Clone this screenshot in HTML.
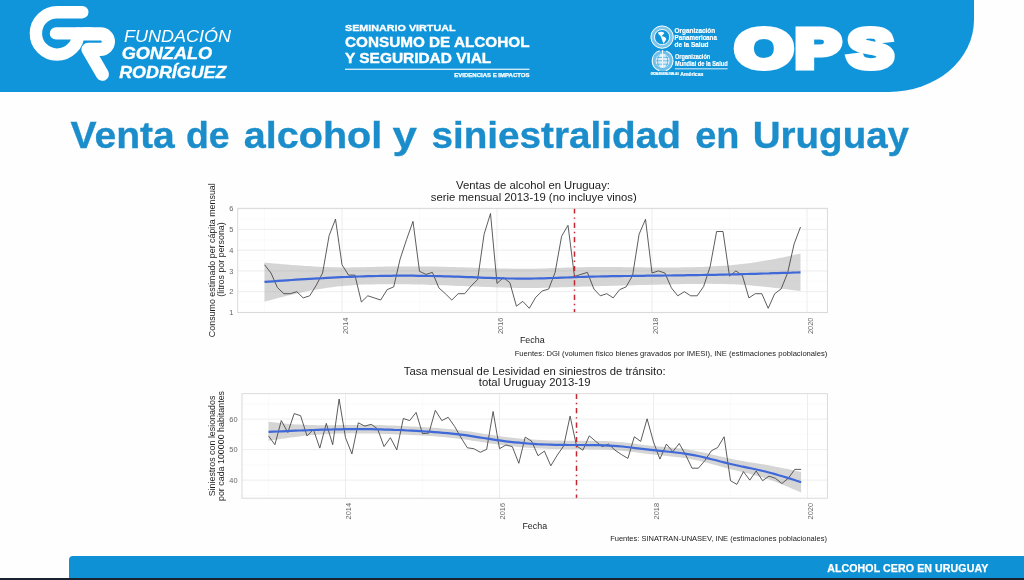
<!DOCTYPE html>
<html lang="es">
<head>
<meta charset="utf-8">
<title>Venta de alcohol y siniestralidad en Uruguay</title>
<style>
html,body{margin:0;padding:0;}
body{width:1024px;height:580px;overflow:hidden;background:#fefefe;position:relative;font-family:"Liberation Sans",sans-serif;}
.topbar{position:absolute;left:0;top:0;width:974.3px;height:91.6px;background:#1095da;border-bottom-right-radius:85px 72px;}
.hdr{position:absolute;left:0;top:0;filter:blur(0.45px);}
h1{position:absolute;margin:0;left:0;top:100px;width:1024px;height:60px;font-size:37px;line-height:0;}
h1 svg{display:block;filter:blur(0.5px);}
.charts{position:absolute;left:0;top:0;filter:blur(0.45px);}
.footer{position:absolute;left:69px;top:555.8px;width:960px;height:23.2px;background:#0f91d5;border-top-left-radius:4px;}
.footer span{position:absolute;left:758.2px;top:6.0px;font-size:10.6px;line-height:12px;font-weight:bold;color:#fff;white-space:nowrap;letter-spacing:0.1px;-webkit-text-stroke:0.25px #fff;}
.baseline{position:absolute;left:0;top:578.3px;width:1024px;height:2px;background:#1a2230;}
</style>
</head>
<body>
<div class="topbar"></div>
<svg class="hdr" width="1024" height="100" viewBox="0 0 1024 100" font-family="'Liberation Sans', sans-serif" fill="#fff">
<!-- GR logo mark -->
<g id="logo-gr" fill="none" stroke="#fff" stroke-width="12.4" stroke-linecap="round" stroke-linejoin="round">
<title>GR</title>
<path d="M82.3,12.2 H57.6 A21.2,21.2 0 1 0 78.3,33.4"/>
<path d="M56,33.4 H90"/>
<path d="M84,33.8 H100.6 A7.8,7.8 0 0 1 100.6,49.4 H88 L102.4,74.2" stroke-width="13.2"/>
</g>
<g font-style="italic">
<text x="124.1" y="41.7" font-size="16.2" textLength="107" lengthAdjust="spacingAndGlyphs">FUNDACIÓN</text>
<g font-weight="bold" stroke="#fff" stroke-width="0.35">
<text x="121.7" y="59.4" font-size="16.4" textLength="90.4" lengthAdjust="spacingAndGlyphs">GONZALO</text>
<text x="119.2" y="77.5" font-size="16.4" textLength="107.2" lengthAdjust="spacingAndGlyphs">RODRÍGUEZ</text>
</g>
</g>
<!-- seminario -->
<g font-weight="bold" stroke="#fff" stroke-width="0.4">
<text x="345" y="31.2" font-size="9.8" textLength="110.5" lengthAdjust="spacingAndGlyphs" stroke-width="0.3">SEMINARIO VIRTUAL</text>
<text x="345" y="46.9" font-size="15" textLength="184.5" lengthAdjust="spacingAndGlyphs">CONSUMO DE ALCOHOL</text>
<text x="345" y="63.4" font-size="15" textLength="146.3" lengthAdjust="spacingAndGlyphs">Y SEGURIDAD VIAL</text>
<rect x="345" y="68.7" width="184.5" height="1.1" stroke="none"/>
<text x="454.3" y="76.7" font-size="5.2" textLength="75.2" lengthAdjust="spacingAndGlyphs" stroke-width="0.25">EVIDENCIAS E IMPACTOS</text>
</g>
<!-- OPS -->
<g id="ops">
<g id="emblem-paho" transform="translate(662.1,37.1)">
<circle r="11.2" fill="#fff" fill-opacity="0.45" stroke="#fff" stroke-width="1"/>
<circle r="7.6" fill="#1095da" stroke="#fff" stroke-width="0.9"/>
<path d="M-4.2,-4.6 C-2,-6 1.5,-5.6 2.2,-4 C1.6,-2.6 0.2,-2.2 -0.2,-0.8 C1.6,-0.8 4,0.4 4.2,2 C3.6,3.8 2.2,5 1.4,6.6 C0.4,5.4 0.6,3.4 -0.4,2 C-1,0.8 -1.2,-0.4 -1.6,-1.4 C-2.8,-2 -3.8,-3.2 -4.2,-4.6 Z" fill="#fff"/>
</g>
<g id="emblem-who" transform="translate(662.6,60.8)">
<circle r="10.4" fill="#fff" fill-opacity="0.4" stroke="#fff" stroke-width="1.1" stroke-dasharray="26 6.7" stroke-dashoffset="-19.7"/>
<circle r="6.6" fill="#fff" fill-opacity="0.75" stroke="#fff" stroke-width="0.7"/>
<path d="M-6.6,0 H6.6 M-5.6,-3.4 H5.6 M-5.6,3.4 H5.6 M0,-10.8 V7.5 M-3.4,-5.6 C-5.6,-2 -5.6,2 -3.4,5.6 M3.4,-5.6 C5.6,-2 5.6,2 3.4,5.6" fill="none" stroke="#1095da" stroke-width="0.55"/>
<path d="M0,-10.8 V7.2" stroke="#fff" stroke-width="1" fill="none"/>
</g>
<g font-weight="bold" font-size="7.3" stroke="#fff" stroke-width="0.2">
<text x="674.5" y="33.2" textLength="40.7" lengthAdjust="spacingAndGlyphs">Organización</text>
<text x="674.5" y="40.2" textLength="42.4" lengthAdjust="spacingAndGlyphs">Panamericana</text>
<text x="674.5" y="46.9" textLength="34" lengthAdjust="spacingAndGlyphs">de la Salud</text>
<text x="675" y="58.8" textLength="35.2" lengthAdjust="spacingAndGlyphs">Organización</text>
<text x="675" y="66" textLength="52.6" lengthAdjust="spacingAndGlyphs">Mundial de la Salud</text>
<rect x="675" y="68.5" width="52.6" height="0.6"/>
<text x="650.7" y="74.9" font-size="2.6" textLength="28" lengthAdjust="spacingAndGlyphs">OFICINA REGIONAL PARA LAS</text>
<text x="680.2" y="75.6" font-size="5.6" textLength="23.3" lengthAdjust="spacingAndGlyphs">Américas</text>
</g>
<g font-size="53.5" font-weight="bold" stroke="#fff" stroke-width="7" stroke-linejoin="miter"><text transform="scale(1.37,1)" x="536.9" y="67.5">O</text><text transform="scale(1.26,1)" x="631.3 673.0" y="67.5">PS</text></g>
</g>
</svg>
<h1><svg width="1024" height="60" viewBox="0 0 1024 60"><text y="47.7" font-family="'Liberation Sans', sans-serif" font-size="37" font-weight="bold" fill="#1b8dcb" stroke="#1b8dcb" stroke-width="0.35"><tspan x="70.6" textLength="104.2" lengthAdjust="spacingAndGlyphs">Venta</tspan> <tspan x="185.9" textLength="43.6" lengthAdjust="spacingAndGlyphs">de</tspan> <tspan x="243.8" textLength="138.4" lengthAdjust="spacingAndGlyphs">alcohol</tspan> <tspan x="392.6" textLength="24.4" lengthAdjust="spacingAndGlyphs">y</tspan> <tspan x="431.4" textLength="249.4" lengthAdjust="spacingAndGlyphs">siniestralidad</tspan> <tspan x="695.2" textLength="44.2" lengthAdjust="spacingAndGlyphs">en</tspan> <tspan x="752.8" textLength="156.2" lengthAdjust="spacingAndGlyphs">Uruguay</tspan></text></svg></h1>
<svg class="charts" width="1024" height="580" viewBox="0 0 1024 580" font-family="'Liberation Sans', sans-serif">
<g id="chart-ventas">
<rect x="237.7" y="208.3" width="589.7" height="104.3" fill="#fff"/>
<line x1="237.7" x2="827.4" y1="302.0" y2="302.0" stroke="#f6f6f6" stroke-width="0.5"/>
<line x1="237.7" x2="827.4" y1="281.3" y2="281.3" stroke="#f6f6f6" stroke-width="0.5"/>
<line x1="237.7" x2="827.4" y1="260.5" y2="260.5" stroke="#f6f6f6" stroke-width="0.5"/>
<line x1="237.7" x2="827.4" y1="239.8" y2="239.8" stroke="#f6f6f6" stroke-width="0.5"/>
<line x1="237.7" x2="827.4" y1="219.1" y2="219.1" stroke="#f6f6f6" stroke-width="0.5"/>
<line y1="208.3" y2="312.6" x1="264.5" x2="264.5" stroke="#f6f6f6" stroke-width="0.5"/>
<line y1="208.3" y2="312.6" x1="419.5" x2="419.5" stroke="#f6f6f6" stroke-width="0.5"/>
<line y1="208.3" y2="312.6" x1="574.5" x2="574.5" stroke="#f6f6f6" stroke-width="0.5"/>
<line y1="208.3" y2="312.6" x1="729.5" x2="729.5" stroke="#f6f6f6" stroke-width="0.5"/>
<line x1="237.7" x2="827.4" y1="312.4" y2="312.4" stroke="#e9e9e9" stroke-width="0.8"/>
<line x1="237.7" x2="827.4" y1="291.7" y2="291.7" stroke="#e9e9e9" stroke-width="0.8"/>
<line x1="237.7" x2="827.4" y1="270.9" y2="270.9" stroke="#e9e9e9" stroke-width="0.8"/>
<line x1="237.7" x2="827.4" y1="250.2" y2="250.2" stroke="#e9e9e9" stroke-width="0.8"/>
<line x1="237.7" x2="827.4" y1="229.4" y2="229.4" stroke="#e9e9e9" stroke-width="0.8"/>
<line x1="237.7" x2="827.4" y1="208.7" y2="208.7" stroke="#e9e9e9" stroke-width="0.8"/>
<line y1="208.3" y2="312.6" x1="342.0" x2="342.0" stroke="#e9e9e9" stroke-width="0.8"/>
<line y1="208.3" y2="312.6" x1="497.0" x2="497.0" stroke="#e9e9e9" stroke-width="0.8"/>
<line y1="208.3" y2="312.6" x1="652.0" x2="652.0" stroke="#e9e9e9" stroke-width="0.8"/>
<line y1="208.3" y2="312.6" x1="807.0" x2="807.0" stroke="#e9e9e9" stroke-width="0.8"/>
<polygon points="264.5,262.6 269.0,263.0 273.5,263.4 278.0,263.8 282.5,264.2 287.0,264.5 291.5,264.9 296.0,265.2 300.5,265.5 305.0,265.9 309.5,266.1 314.0,266.4 318.6,266.7 323.1,266.9 327.6,267.1 332.1,267.2 336.6,267.3 341.1,267.4 345.6,267.4 350.1,267.4 354.6,267.3 359.1,267.3 363.6,267.2 368.1,267.0 372.6,266.9 377.1,266.8 381.6,266.7 386.1,266.6 390.6,266.5 395.1,266.4 399.6,266.4 404.1,266.4 408.6,266.4 413.1,266.4 417.6,266.4 422.2,266.4 426.7,266.5 431.2,266.5 435.7,266.6 440.2,266.7 444.7,266.8 449.2,266.9 453.7,267.1 458.2,267.2 462.7,267.3 467.2,267.5 471.7,267.6 476.2,267.8 480.7,267.9 485.2,268.1 489.7,268.2 494.2,268.3 498.7,268.4 503.2,268.5 507.7,268.6 512.2,268.7 516.7,268.7 521.2,268.8 525.8,268.7 530.3,268.7 534.8,268.7 539.3,268.6 543.8,268.4 548.3,268.3 552.8,268.1 557.3,268.0 561.8,267.8 566.3,267.6 570.8,267.5 575.3,267.4 579.8,267.3 584.3,267.2 588.8,267.1 593.3,267.1 597.8,267.1 602.3,267.1 606.8,267.1 611.3,267.1 615.8,267.1 620.3,267.1 624.8,267.2 629.3,267.2 633.9,267.2 638.4,267.3 642.9,267.3 647.4,267.4 651.9,267.4 656.4,267.4 660.9,267.4 665.4,267.4 669.9,267.4 674.4,267.4 678.9,267.4 683.4,267.3 687.9,267.2 692.4,267.2 696.9,267.0 701.4,266.9 705.9,266.8 710.4,266.6 714.9,266.3 719.4,266.1 723.9,265.8 728.4,265.4 732.9,265.0 737.5,264.6 742.0,264.0 746.5,263.5 751.0,262.9 755.5,262.2 760.0,261.5 764.5,260.8 769.0,260.0 773.5,259.2 778.0,258.3 782.5,257.4 787.0,256.4 791.5,255.5 796.0,254.5 800.5,253.5 800.5,291.0 796.0,290.5 791.5,289.9 787.0,289.3 782.5,288.7 778.0,288.2 773.5,287.7 769.0,287.2 764.5,286.7 760.0,286.3 755.5,285.9 751.0,285.5 746.5,285.1 742.0,284.8 737.5,284.6 732.9,284.3 728.4,284.2 723.9,284.0 719.4,283.9 714.9,283.9 710.4,283.8 705.9,283.8 701.4,283.9 696.9,283.9 692.4,284.0 687.9,284.0 683.4,284.1 678.9,284.2 674.4,284.3 669.9,284.4 665.4,284.5 660.9,284.6 656.4,284.7 651.9,284.8 647.4,284.9 642.9,285.0 638.4,285.1 633.9,285.3 629.3,285.4 624.8,285.5 620.3,285.6 615.8,285.7 611.3,285.8 606.8,285.9 602.3,286.1 597.8,286.2 593.3,286.3 588.8,286.4 584.3,286.6 579.8,286.7 575.3,286.9 570.8,287.0 566.3,287.2 561.8,287.3 557.3,287.5 552.8,287.6 548.3,287.7 543.8,287.8 539.3,287.9 534.8,287.9 530.3,288.0 525.8,287.9 521.2,287.9 516.7,287.9 512.2,287.8 507.7,287.7 503.2,287.6 498.7,287.4 494.2,287.3 489.7,287.1 485.2,286.9 480.7,286.8 476.2,286.6 471.7,286.4 467.2,286.2 462.7,286.0 458.2,285.9 453.7,285.7 449.2,285.5 444.7,285.3 440.2,285.2 435.7,285.0 431.2,284.9 426.7,284.7 422.2,284.6 417.6,284.5 413.1,284.4 408.6,284.3 404.1,284.3 399.6,284.2 395.1,284.2 390.6,284.2 386.1,284.2 381.6,284.2 377.1,284.3 372.6,284.4 368.1,284.5 363.6,284.6 359.1,284.8 354.6,285.1 350.1,285.4 345.6,285.7 341.1,286.2 336.6,286.6 332.1,287.2 327.6,287.8 323.1,288.4 318.6,289.2 314.0,290.0 309.5,290.8 305.0,291.7 300.5,292.7 296.0,293.7 291.5,294.7 287.0,295.8 282.5,296.9 278.0,298.1 273.5,299.2 269.0,300.4 264.5,301.6" fill="#999" fill-opacity="0.41"/>
<polyline points="264.5,264.7 271.0,273.0 277.4,287.5 283.9,293.7 290.3,293.7 296.8,291.7 303.2,297.9 309.7,295.8 316.2,285.4 322.6,273.0 329.1,235.7 335.5,219.1 342.0,264.7 348.5,275.1 354.9,275.1 361.4,302.0 367.8,295.8 374.3,297.9 380.7,300.0 387.2,289.6 393.7,286.9 400.1,259.1 406.6,239.4 413.0,221.4 419.5,271.3 426.0,274.4 432.4,272.4 438.9,287.9 445.3,293.7 451.8,300.0 458.2,293.7 464.7,293.7 471.2,285.9 477.6,279.6 484.1,234.2 490.5,213.5 497.0,283.4 503.4,277.6 509.9,282.7 516.4,306.2 522.8,301.4 529.3,308.3 535.7,297.3 542.2,291.0 548.7,289.0 555.1,272.4 561.6,236.3 568.0,225.3 574.5,276.5 580.9,274.4 587.4,272.4 593.9,289.0 600.3,295.8 606.8,293.7 613.2,297.9 619.7,289.6 626.1,286.9 632.6,275.5 639.1,234.2 645.5,219.3 652.0,273.0 658.4,270.9 664.9,273.0 671.4,287.9 677.8,295.8 684.3,291.7 690.7,295.8 697.2,295.8 703.6,286.5 710.1,266.8 716.6,231.5 723.0,231.5 729.5,276.1 735.9,270.9 742.4,275.5 748.9,297.9 755.3,293.7 761.8,293.7 768.2,308.3 774.7,293.7 781.1,289.0 787.6,273.0 794.1,244.0 800.5,227.0" fill="none" stroke="#404040" stroke-width="0.85" stroke-linejoin="round"/>
<polyline points="264.5,281.9 269.0,281.6 273.5,281.3 278.0,280.9 282.5,280.6 287.0,280.3 291.5,280.0 296.0,279.7 300.5,279.4 305.0,279.1 309.5,278.8 314.0,278.6 318.6,278.3 323.1,278.1 327.6,277.8 332.1,277.6 336.6,277.4 341.1,277.2 345.6,277.0 350.1,276.8 354.6,276.6 359.1,276.5 363.6,276.3 368.1,276.2 372.6,276.1 377.1,276.0 381.6,275.9 386.1,275.8 390.6,275.8 395.1,275.7 399.6,275.7 404.1,275.7 408.6,275.7 413.1,275.7 417.6,275.8 422.2,275.8 426.7,275.9 431.2,276.0 435.7,276.1 440.2,276.2 444.7,276.3 449.2,276.4 453.7,276.6 458.2,276.7 462.7,276.9 467.2,277.1 471.7,277.2 476.2,277.4 480.7,277.6 485.2,277.8 489.7,277.9 494.2,278.1 498.7,278.2 503.2,278.3 507.7,278.5 512.2,278.5 516.7,278.6 521.2,278.6 525.8,278.6 530.3,278.6 534.8,278.5 539.3,278.4 543.8,278.3 548.3,278.1 552.8,278.0 557.3,277.8 561.8,277.6 566.3,277.5 570.8,277.3 575.3,277.1 579.8,277.0 584.3,276.8 588.8,276.7 593.3,276.6 597.8,276.5 602.3,276.4 606.8,276.3 611.3,276.2 615.8,276.1 620.3,276.1 624.8,276.0 629.3,276.0 633.9,275.9 638.4,275.8 642.9,275.8 647.4,275.7 651.9,275.7 656.4,275.6 660.9,275.6 665.4,275.5 669.9,275.5 674.4,275.4 678.9,275.4 683.4,275.3 687.9,275.2 692.4,275.2 696.9,275.1 701.4,275.0 705.9,274.9 710.4,274.8 714.9,274.8 719.4,274.7 723.9,274.6 728.4,274.5 732.9,274.4 737.5,274.3 742.0,274.1 746.5,274.0 751.0,273.9 755.5,273.8 760.0,273.6 764.5,273.5 769.0,273.4 773.5,273.2 778.0,273.1 782.5,272.9 787.0,272.8 791.5,272.7 796.0,272.5 800.5,272.4" fill="none" stroke="#3f68d8" stroke-width="2.2" stroke-linejoin="round"/>
<line x1="574.5" x2="574.5" y1="208.3" y2="312.6" stroke="#c4272f" stroke-width="1.5" stroke-dasharray="5.2 3.9 1.4 3.9"/>
<rect x="237.7" y="208.3" width="589.7" height="104.3" fill="none" stroke="#d6d6d6" stroke-width="0.9"/>
<g font-size="11.3" fill="#1c1c1c" text-anchor="middle">
<text x="533" y="189.2">Ventas de alcohol en Uruguay:</text>
<text x="533.8" y="200.6">serie mensual 2013-19 (no incluye vinos)</text>
</g>
<g font-size="7.4" fill="#666">
<text x="233.3" y="315.0" text-anchor="end">1</text>
<text x="233.3" y="294.3" text-anchor="end">2</text>
<text x="233.3" y="273.5" text-anchor="end">3</text>
<text x="233.3" y="252.8" text-anchor="end">4</text>
<text x="233.3" y="232.0" text-anchor="end">5</text>
<text x="233.3" y="211.3" text-anchor="end">6</text>
<text transform="translate(347.7,317.6) rotate(-90)" text-anchor="end">2014</text>
<text transform="translate(502.7,317.6) rotate(-90)" text-anchor="end">2016</text>
<text transform="translate(657.7,317.6) rotate(-90)" text-anchor="end">2018</text>
<text transform="translate(812.7,317.6) rotate(-90)" text-anchor="end">2020</text>
</g>
<g font-size="8.9" fill="#1c1c1c" text-anchor="middle">
<text transform="translate(215.2,260.2) rotate(-90)">Consumo estimado per cápita mensual</text>
<text transform="translate(224.1,259.5) rotate(-90)">(litros por persona)</text>
<text x="532.3" y="342.7">Fecha</text>
</g>
<text x="827.4" y="355.8" font-size="7.63" fill="#1c1c1c" text-anchor="end">Fuentes: DGI (volumen físico bienes gravados por IMESI), INE (estimaciones poblacionales)</text>
</g>
<g id="chart-lesividad">
<rect x="242.0" y="393.7" width="585.4" height="104.5" fill="#fff"/>
<line x1="242.0" x2="827.4" y1="495.4" y2="495.4" stroke="#f6f6f6" stroke-width="0.5"/>
<line x1="242.0" x2="827.4" y1="464.9" y2="464.9" stroke="#f6f6f6" stroke-width="0.5"/>
<line x1="242.0" x2="827.4" y1="434.4" y2="434.4" stroke="#f6f6f6" stroke-width="0.5"/>
<line x1="242.0" x2="827.4" y1="403.9" y2="403.9" stroke="#f6f6f6" stroke-width="0.5"/>
<line y1="393.7" y2="498.2" x1="268.5" x2="268.5" stroke="#f6f6f6" stroke-width="0.5"/>
<line y1="393.7" y2="498.2" x1="422.5" x2="422.5" stroke="#f6f6f6" stroke-width="0.5"/>
<line y1="393.7" y2="498.2" x1="576.5" x2="576.5" stroke="#f6f6f6" stroke-width="0.5"/>
<line y1="393.7" y2="498.2" x1="730.5" x2="730.5" stroke="#f6f6f6" stroke-width="0.5"/>
<line x1="242.0" x2="827.4" y1="480.1" y2="480.1" stroke="#e9e9e9" stroke-width="0.8"/>
<line x1="242.0" x2="827.4" y1="449.6" y2="449.6" stroke="#e9e9e9" stroke-width="0.8"/>
<line x1="242.0" x2="827.4" y1="419.1" y2="419.1" stroke="#e9e9e9" stroke-width="0.8"/>
<line y1="393.7" y2="498.2" x1="345.5" x2="345.5" stroke="#e9e9e9" stroke-width="0.8"/>
<line y1="393.7" y2="498.2" x1="499.5" x2="499.5" stroke="#e9e9e9" stroke-width="0.8"/>
<line y1="393.7" y2="498.2" x1="653.5" x2="653.5" stroke="#e9e9e9" stroke-width="0.8"/>
<line y1="393.7" y2="498.2" x1="807.5" x2="807.5" stroke="#e9e9e9" stroke-width="0.8"/>
<polygon points="268.5,421.8 273.0,422.3 277.5,422.8 281.9,423.2 286.4,423.7 290.9,424.0 295.4,424.4 299.8,424.6 304.3,424.8 308.8,425.0 313.3,425.1 317.7,425.2 322.2,425.2 326.7,425.2 331.2,425.2 335.6,425.2 340.1,425.1 344.6,425.0 349.1,425.0 353.5,424.9 358.0,424.9 362.5,424.9 367.0,424.9 371.4,424.9 375.9,425.0 380.4,425.1 384.9,425.2 389.3,425.4 393.8,425.5 398.3,425.7 402.8,425.9 407.2,426.2 411.7,426.4 416.2,426.7 420.7,426.9 425.2,427.2 429.6,427.5 434.1,427.8 438.6,428.1 443.1,428.5 447.5,428.9 452.0,429.3 456.5,429.8 461.0,430.4 465.4,431.0 469.9,431.6 474.4,432.3 478.9,433.0 483.3,433.7 487.8,434.4 492.3,435.1 496.8,435.8 501.2,436.4 505.7,437.0 510.2,437.5 514.7,438.0 519.1,438.5 523.6,438.9 528.1,439.2 532.6,439.5 537.0,439.8 541.5,440.0 546.0,440.2 550.5,440.4 554.9,440.5 559.4,440.6 563.9,440.7 568.4,440.7 572.8,440.7 577.3,440.8 581.8,440.8 586.3,440.8 590.8,440.8 595.2,440.9 599.7,441.0 604.2,441.1 608.7,441.3 613.1,441.5 617.6,441.9 622.1,442.3 626.6,442.8 631.0,443.3 635.5,443.8 640.0,444.4 644.5,444.9 648.9,445.4 653.4,445.9 657.9,446.4 662.4,446.8 666.8,447.2 671.3,447.6 675.8,448.1 680.3,448.6 684.7,449.1 689.2,449.8 693.7,450.5 698.2,451.4 702.6,452.3 707.1,453.3 711.6,454.4 716.1,455.4 720.5,456.5 725.0,457.5 729.5,458.5 734.0,459.5 738.5,460.3 742.9,461.1 747.4,461.9 751.9,462.6 756.4,463.3 760.8,464.1 765.3,464.8 769.8,465.6 774.3,466.4 778.7,467.3 783.2,468.2 787.7,469.1 792.2,470.0 796.6,470.9 801.1,471.9 801.1,492.6 796.6,490.6 792.2,488.7 787.7,486.7 783.2,484.9 778.7,483.1 774.3,481.3 769.8,479.7 765.3,478.3 760.8,476.9 756.4,475.7 751.9,474.5 747.4,473.3 742.9,472.2 738.5,471.1 734.0,470.0 729.5,468.9 725.0,467.7 720.5,466.4 716.1,465.2 711.6,464.0 707.1,462.8 702.6,461.7 698.2,460.6 693.7,459.7 689.2,458.8 684.7,458.1 680.3,457.5 675.8,456.9 671.3,456.4 666.8,455.9 662.4,455.4 657.9,455.0 653.4,454.5 648.9,453.9 644.5,453.4 640.0,452.9 635.5,452.3 631.0,451.8 626.6,451.3 622.1,450.8 617.6,450.4 613.1,450.1 608.7,449.8 604.2,449.6 599.7,449.5 595.2,449.4 590.8,449.4 586.3,449.3 581.8,449.3 577.3,449.3 572.8,449.3 568.4,449.2 563.9,449.2 559.4,449.1 554.9,449.0 550.5,448.9 546.0,448.7 541.5,448.6 537.0,448.3 532.6,448.1 528.1,447.7 523.6,447.4 519.1,447.0 514.7,446.6 510.2,446.1 505.7,445.5 501.2,445.0 496.8,444.3 492.3,443.7 487.8,443.0 483.3,442.3 478.9,441.6 474.4,440.9 469.9,440.2 465.4,439.5 461.0,438.9 456.5,438.4 452.0,437.9 447.5,437.4 443.1,437.0 438.6,436.7 434.1,436.3 429.6,436.0 425.2,435.7 420.7,435.5 416.2,435.2 411.7,435.0 407.2,434.8 402.8,434.6 398.3,434.4 393.8,434.2 389.3,434.0 384.9,433.9 380.4,433.8 375.9,433.6 371.4,433.6 367.0,433.5 362.5,433.4 358.0,433.4 353.5,433.3 349.1,433.3 344.6,433.4 340.1,433.4 335.6,433.5 331.2,433.7 326.7,433.9 322.2,434.2 317.7,434.5 313.3,434.9 308.8,435.3 304.3,435.8 299.8,436.4 295.4,436.9 290.9,437.5 286.4,438.2 281.9,438.8 277.5,439.4 273.0,440.1 268.5,440.8" fill="#999" fill-opacity="0.41"/>
<polyline points="268.5,435.9 274.9,444.7 281.3,420.6 287.8,432.5 294.2,413.6 300.6,415.7 307.0,435.9 313.4,429.5 319.8,448.1 326.3,423.4 332.7,444.7 339.1,399.0 345.5,437.7 351.9,453.9 358.3,422.8 364.8,426.1 371.2,424.3 377.6,428.9 384.0,446.6 390.4,437.7 396.8,449.9 403.3,418.5 409.7,420.6 416.1,412.4 422.5,433.7 428.9,433.1 435.3,410.3 441.8,420.6 448.2,417.3 454.6,426.4 461.0,437.7 467.4,447.8 473.8,448.7 480.3,452.3 486.7,449.3 493.1,411.5 499.5,448.7 505.9,445.0 512.3,446.6 518.8,463.3 525.2,437.1 531.6,441.1 538.0,455.7 544.4,451.1 550.8,465.8 557.3,455.1 563.7,445.9 570.1,416.1 576.5,445.9 582.9,450.2 589.3,435.9 595.8,441.4 602.2,446.6 608.6,444.1 615.0,450.2 621.4,454.5 627.9,458.4 634.3,436.8 640.7,441.4 647.1,418.8 653.5,442.0 659.9,459.1 666.4,444.1 672.8,451.7 679.2,443.5 685.6,454.8 692.0,468.2 698.4,468.2 704.9,460.6 711.3,450.8 717.7,447.5 724.1,436.8 730.5,480.7 736.9,484.4 743.4,471.6 749.8,480.1 756.2,471.0 762.6,480.7 769.0,476.1 775.4,478.3 781.9,483.5 788.3,478.3 794.7,469.4 801.1,469.4" fill="none" stroke="#404040" stroke-width="0.85" stroke-linejoin="round"/>
<polyline points="268.5,431.9 273.0,431.7 277.5,431.5 281.9,431.3 286.4,431.1 290.9,430.9 295.4,430.7 299.8,430.5 304.3,430.3 308.8,430.2 313.3,430.0 317.7,429.8 322.2,429.7 326.7,429.6 331.2,429.5 335.6,429.4 340.1,429.3 344.6,429.2 349.1,429.2 353.5,429.1 358.0,429.1 362.5,429.1 367.0,429.2 371.4,429.2 375.9,429.3 380.4,429.4 384.9,429.6 389.3,429.7 393.8,429.9 398.3,430.0 402.8,430.2 407.2,430.5 411.7,430.7 416.2,430.9 420.7,431.2 425.2,431.5 429.6,431.7 434.1,432.1 438.6,432.4 443.1,432.8 447.5,433.2 452.0,433.6 456.5,434.1 461.0,434.6 465.4,435.2 469.9,435.9 474.4,436.6 478.9,437.3 483.3,438.0 487.8,438.7 492.3,439.4 496.8,440.1 501.2,440.7 505.7,441.3 510.2,441.8 514.7,442.3 519.1,442.7 523.6,443.1 528.1,443.5 532.6,443.8 537.0,444.1 541.5,444.3 546.0,444.5 550.5,444.6 554.9,444.8 559.4,444.8 563.9,444.9 568.4,445.0 572.8,445.0 577.3,445.0 581.8,445.0 586.3,445.1 590.8,445.1 595.2,445.1 599.7,445.2 604.2,445.4 608.7,445.6 613.1,445.8 617.6,446.1 622.1,446.5 626.6,447.0 631.0,447.5 635.5,448.1 640.0,448.6 644.5,449.2 648.9,449.7 653.4,450.2 657.9,450.7 662.4,451.1 666.8,451.5 671.3,452.0 675.8,452.5 680.3,453.0 684.7,453.6 689.2,454.3 693.7,455.1 698.2,456.0 702.6,457.0 707.1,458.1 711.6,459.2 716.1,460.3 720.5,461.5 725.0,462.6 729.5,463.7 734.0,464.7 738.5,465.7 742.9,466.7 747.4,467.6 751.9,468.5 756.4,469.5 760.8,470.5 765.3,471.5 769.8,472.7 774.3,473.9 778.7,475.2 783.2,476.5 787.7,477.9 792.2,479.3 796.6,480.8 801.1,482.2" fill="none" stroke="#3f68d8" stroke-width="2.2" stroke-linejoin="round"/>
<line x1="576.5" x2="576.5" y1="393.7" y2="498.2" stroke="#c4272f" stroke-width="1.5" stroke-dasharray="5.2 3.9 1.4 3.9"/>
<rect x="242.0" y="393.7" width="585.4" height="104.5" fill="none" stroke="#d6d6d6" stroke-width="0.9"/>
<g font-size="11.3" fill="#1c1c1c" text-anchor="middle">
<text x="534.7" y="374.7">Tasa mensual de Lesividad en siniestros de tránsito:</text>
<text x="534.7" y="386.3">total Uruguay 2013-19</text>
</g>
<g font-size="7.4" fill="#666">
<text x="237.6" y="482.7" text-anchor="end">40</text>
<text x="237.6" y="452.2" text-anchor="end">50</text>
<text x="237.6" y="421.7" text-anchor="end">60</text>
<text transform="translate(351.2,503.0) rotate(-90)" text-anchor="end">2014</text>
<text transform="translate(505.2,503.0) rotate(-90)" text-anchor="end">2016</text>
<text transform="translate(659.2,503.0) rotate(-90)" text-anchor="end">2018</text>
<text transform="translate(813.2,503.0) rotate(-90)" text-anchor="end">2020</text>
</g>
<g font-size="8.9" fill="#1c1c1c" text-anchor="middle">
<text transform="translate(214.6,446) rotate(-90)">Siniestros con lesionados</text>
<text transform="translate(224.0,446) rotate(-90)">por cada 100000 habitantes</text>
<text x="534.8" y="528.8">Fecha</text>
</g>
<text x="826.9" y="541.1" font-size="7.5" fill="#1c1c1c" text-anchor="end">Fuentes: SINATRAN-UNASEV, INE (estimaciones poblacionales)</text>
</g>
</svg>
<div class="footer"><span>ALCOHOL CERO EN URUGUAY</span></div>
<div class="baseline"></div>
</body>
</html>
